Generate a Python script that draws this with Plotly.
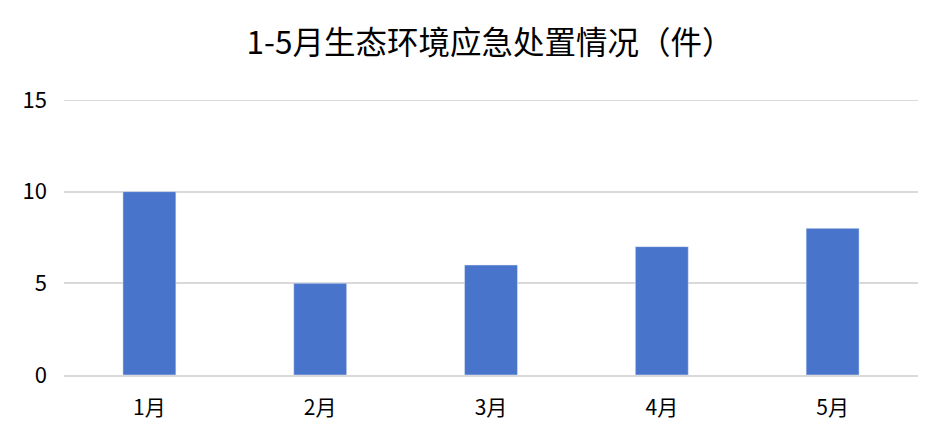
import plotly.graph_objects as go

months = ["1月", "2月", "3月", "4月", "5月"]
counts = [10, 5, 6, 7, 8]
y_ticks = [0, 5, 10, 15]

fig = go.Figure(go.Bar(x=months, y=counts, marker_color="#4874CB", width=0.31))

# page body adds an 8px offset, so the size and margins allow for it
fig.update_layout(
    width=934, height=437,
    margin=dict(l=56, r=24, t=92, b=70),
    plot_bgcolor="white", paper_bgcolor="white",
    font=dict(family="Noto Sans CJK SC", color="#000000"),
    title=dict(text="1-5月生态环境应急处置情况（件）", x=482 / 934, xanchor="center",
               y=1 - 35 / 437, yanchor="middle", font=dict(size=31.5, color="#000000")),
    showlegend=False,
)
fig.update_xaxes(showline=True, linecolor="#d9d9d9", linewidth=2,
                 tickfont=dict(size=21), ticks="", ticklabelstandoff=13)
fig.update_yaxes(range=[0, 15], tickvals=y_ticks, showgrid=True, gridcolor="#d9d9d9",
                 gridwidth=2, zeroline=False, tickfont=dict(size=22),
                 ticklabelstandoff=16, ticks="")

# plotly drops the gridline sitting on the top edge, draw it by hand
fig.add_shape(type="line", xref="paper", x0=0, x1=1, yref="y", y0=y_ticks[-1], y1=y_ticks[-1],
              line=dict(color="#d9d9d9", width=2), layer="below")

fig.write_html("out.html")
